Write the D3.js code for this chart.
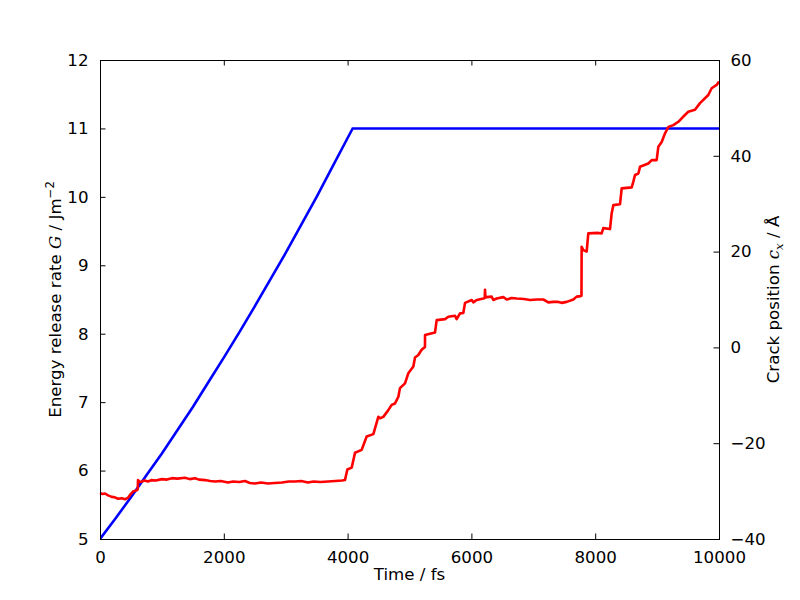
<!DOCTYPE html>
<html>
<head>
<meta charset="utf-8">
<script src="https://d3js.org/d3.v7.min.js"></script>
<style>
  body { margin: 0; background: #fff; }
  text { font-family: "DejaVu Sans", sans-serif; }
</style>
</head>
<body>
<svg id="chart" width="800" height="600"></svg>
<script>
// Energy release rate G (left axis)
const gTime = [0, 250, 500, 750, 1000, 1250, 1500, 1750, 2000, 2250, 2500, 2750, 3000, 3250, 3500, 3750, 4000, 4082, 10000];
const gValue = [5.00, 5.30, 5.61, 5.93, 6.25, 6.59, 6.93, 7.29, 7.65, 8.02, 8.40, 8.79, 9.18, 9.59, 10.00, 10.43, 10.86, 11.00, 11.00];

// Crack position c_x (right axis)
const crackTime = [0, 40, 81, 130, 190, 240, 291, 350, 404, 452, 485, 533, 598, 610, 614, 640, 678, 720, 775, 830, 900, 1001, 1080, 1163, 1250, 1373, 1450, 1535, 1600, 1696, 1780, 1858, 1950, 2068, 2150, 2250, 2342, 2420, 2504, 2600, 2714, 2820, 2940, 3050, 3150, 3250, 3360, 3450, 3560, 3683, 3800, 3910, 3958, 3996, 4066, 4120, 4227, 4308, 4416, 4496, 4523, 4577, 4658, 4712, 4766, 4820, 4846, 4927, 4981, 5062, 5089, 5142, 5196, 5250, 5251, 5412, 5439, 5574, 5627, 5735, 5762, 5816, 5869, 5897, 6005, 6031, 6085, 6193, 6215, 6220, 6228, 6247, 6327, 6354, 6408, 6516, 6570, 6650, 6731, 6850, 6947, 7054, 7162, 7243, 7324, 7404, 7458, 7539, 7647, 7701, 7765, 7778, 7781, 7808, 7862, 7889, 8050, 8104, 8131, 8239, 8266, 8293, 8401, 8428, 8590, 8616, 8643, 8697, 8724, 8858, 8913, 8993, 9020, 9074, 9128, 9182, 9262, 9343, 9424, 9504, 9612, 9693, 9827, 9881, 9962, 10000];
const crackPos = [-30.4, -30.6, -30.5, -30.9, -31.2, -31.3, -31.6, -31.5, -31.7, -31.4, -30.8, -30.1, -29.8, -29.6, -27.7, -28.1, -28.0, -27.8, -28.0, -27.7, -27.8, -27.5, -27.6, -27.3, -27.4, -27.2, -27.5, -27.3, -27.6, -27.7, -27.9, -28.0, -27.9, -28.2, -28.0, -28.1, -27.9, -28.3, -28.4, -28.2, -28.4, -28.3, -28.2, -28.0, -28.0, -27.9, -28.2, -28.0, -28.1, -28.0, -27.9, -27.8, -27.7, -25.5, -25.1, -22.0, -21.4, -18.6, -18.1, -14.5, -14.8, -14.5, -13.1, -12.0, -11.7, -10.3, -8.5, -7.5, -5.4, -4.0, -2.1, -1.6, -0.5, 0.1, 2.6, 3.1, 5.7, 5.9, 6.4, 6.6, 5.9, 7.1, 7.2, 9.3, 9.9, 9.4, 9.9, 10.2, 10.3, 12.0, 10.4, 10.5, 10.6, 9.9, 10.2, 10.5, 10.0, 10.3, 10.2, 10.1, 9.9, 10.0, 10.0, 9.4, 9.5, 9.5, 9.3, 9.5, 10.0, 10.6, 10.7, 10.8, 21.0, 20.3, 20.0, 23.8, 23.9, 23.8, 24.9, 24.7, 28.0, 29.7, 29.9, 33.2, 33.4, 34.6, 36.0, 36.3, 37.7, 38.4, 39.1, 39.1, 41.9, 42.9, 44.7, 46.0, 46.4, 47.1, 48.2, 49.2, 49.6, 51.0, 52.7, 54.1, 54.8, 55.5];

const xTicks = [0, 2000, 4000, 6000, 8000, 10000];
const gTicks = [5, 6, 7, 8, 9, 10, 11, 12];
const crackTicks = [-40, -20, 0, 20, 40, 60];

const svg = d3.select("#chart");
const L = 100, R = 719, T = 60, B = 539;
const fs = 16.67;

const x = d3.scaleLinear().domain([0, 10000]).range([L, R]);
const yG = d3.scaleLinear().domain([5, 12]).range([B, T]);
const yC = d3.scaleLinear().domain([-40, 60]).range([B, T]);

const fmt = d => (d < 0 ? "\u2212" + Math.abs(d) : String(d));
const tickLen = 5.5;

// Data lines
svg.append("clipPath").attr("id", "clip")
  .append("rect").attr("x", L).attr("y", T).attr("width", R - L).attr("height", B - T);

svg.append("path")
  .datum(gTime.map((t, i) => [t, gValue[i]]))
  .attr("clip-path", "url(#clip)")
  .attr("fill", "none").attr("stroke", "#0000ff").attr("stroke-width", 2.6)
  .attr("d", d3.line().x(d => x(d[0])).y(d => yG(d[1])));

svg.append("path")
  .datum(crackTime.map((t, i) => [t, crackPos[i]]))
  .attr("fill", "none").attr("stroke", "#ff0000").attr("stroke-width", 2.6)
  .attr("stroke-linejoin", "round")
  .attr("d", d3.line().x(d => x(d[0])).y(d => yC(d[1])));

// Axes (ticks inward)
const axB = d3.axisBottom(x).tickValues(xTicks).tickSizeInner(-tickLen).tickSizeOuter(0).tickPadding(tickLen + 7).tickFormat(fmt);
const axT = d3.axisTop(x).tickValues(xTicks).tickSizeInner(-tickLen).tickSizeOuter(0).tickFormat("");
const axL = d3.axisLeft(yG).tickValues(gTicks).tickSizeInner(-tickLen).tickSizeOuter(0).tickPadding(tickLen + 6).tickFormat(fmt);
const axR = d3.axisRight(yC).tickValues(crackTicks).tickSizeInner(-tickLen).tickSizeOuter(0).tickPadding(tickLen + 6).tickFormat(fmt);

function style(g) {
  g.select(".domain").remove();
  g.selectAll("line").attr("stroke", "#000").attr("stroke-width", 1);
  g.selectAll("text").attr("font-size", fs).attr("fill", "#000").attr("font-family", "DejaVu Sans");
}
svg.append("g").attr("transform", `translate(0,${B})`).call(axB).call(style);
svg.append("g").attr("transform", `translate(0,${T})`).call(axT).call(style);
svg.append("g").attr("transform", `translate(${L},0)`).call(axL).call(style);
svg.append("g").attr("transform", `translate(${R},0)`).call(axR).call(style);

// Frame
svg.append("rect").attr("x", L).attr("y", T).attr("width", R - L).attr("height", B - T)
  .attr("fill", "none").attr("stroke", "#000").attr("stroke-width", 1).attr("shape-rendering", "crispEdges");

// Labels
svg.append("text").attr("x", (L + R) / 2).attr("y", 580).attr("text-anchor", "middle")
  .attr("font-size", fs).text("Time / fs");

const lt = svg.append("text").attr("transform", `translate(61,${(T + B) / 2}) rotate(-90)`)
  .attr("text-anchor", "middle").attr("font-size", fs);
lt.append("tspan").text("Energy release rate ");
lt.append("tspan").attr("font-style", "italic").attr("font-family", "DejaVu Serif").text("G");
lt.append("tspan").text(" / Jm");
lt.append("tspan").attr("font-size", fs * 0.7).attr("dy", -7).text("\u22122");

const rt = svg.append("text").attr("transform", `translate(779,${(T + B) / 2}) rotate(-90)`)
  .attr("text-anchor", "middle").attr("font-size", fs);
rt.append("tspan").text("Crack position ");
rt.append("tspan").attr("font-style", "italic").attr("font-family", "DejaVu Serif").text("c");
rt.append("tspan").attr("font-style", "italic").attr("font-family", "DejaVu Serif").attr("font-size", fs * 0.7).attr("dy", 4).text("x");
rt.append("tspan").attr("dy", -4).text("  / \u00C5");
</script>
</body>
</html>
